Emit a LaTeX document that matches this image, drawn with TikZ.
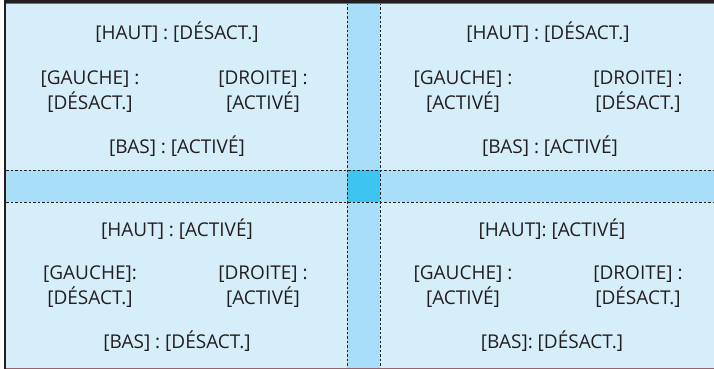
\documentclass[tikz,border=0pt]{standalone}
\usepackage{fontspec}
\setmainfont{Open Sans}
\definecolor{panel}{RGB}{214,238,250}
\definecolor{band}{RGB}{168,222,248}
\definecolor{centre}{RGB}{62,196,240}
\definecolor{frame}{RGB}{35,31,32}
\definecolor{mauve}{RGB}{150,100,110}
\definecolor{txt}{RGB}{35,31,32}
\begin{document}
\begin{tikzpicture}[x=1pt,y=-1pt,
  lbl/.style={font=\fontsize{19}{25}\selectfont, text=txt, align=center, inner sep=0pt},
  guide/.style={draw=frame, dashed, dash pattern=on 2.5pt off 2pt, line width=0.8pt}]
\useasboundingbox (0,0) rectangle (714,369);
\fill[white] (0,0) rectangle (714,369);
\fill[panel] (6,3) rectangle (714,368);
\fill[band] (347,3) rectangle (380,368);
\fill[band] (6,170) rectangle (714,202);
\fill[centre] (347,170) rectangle (380,202);
\draw[guide] (6,170) -- (714,170);
\draw[guide] (6,202) -- (714,202);
\draw[guide] (347,3) -- (347,369);
\draw[guide] (380,3) -- (380,369);
\draw[frame, line width=3pt] (4,1.5) -- (714,1.5);
\draw[mauve, line width=0.6pt] (6,3.2) -- (714,3.2);
\draw[frame, line width=2pt] (5,0) -- (5,369);
\draw[mauve, line width=1.2pt] (6,368.4) -- (714,368.4);
% top-left
\node[lbl] (tlh) at (177,32) {[HAUT] : [DÉSACT.]};
\node[lbl] (tlg) at (90,92) {[GAUCHE] :\\ {[DÉSACT.]}};
\node[lbl] (tld) at (263,92) {[DROITE] :\\ {[ACTIVÉ]}};
\node[lbl] (tlb) at (177,146) {[BAS] : [ACTIVÉ]};
% top-right
\node[lbl] (trh) at (548,32) {[HAUT] : [DÉSACT.]};
\node[lbl] (trg) at (463,92) {[GAUCHE] :\\ {[ACTIVÉ]}};
\node[lbl] (trd) at (638,92) {[DROITE] :\\ {[DÉSACT.]}};
\node[lbl] (trb) at (550,146) {[BAS] : [ACTIVÉ]};
% bottom-left
\node[lbl] (blh) at (177,229) {[HAUT] : [ACTIVÉ]};
\node[lbl] (blg) at (90,287) {[GAUCHE]:\\ {[DÉSACT.]}};
\node[lbl] (bld) at (263,287) {[DROITE] :\\ {[ACTIVÉ]}};
\node[lbl] (blb) at (177,341) {[BAS] : [DÉSACT.]};
% bottom-right
\node[lbl] (brh) at (552,229) {[HAUT]: [ACTIVÉ]};
\node[lbl] (brg) at (463,287) {[GAUCHE] :\\ {[ACTIVÉ]}};
\node[lbl] (brd) at (638,287) {[DROITE] :\\ {[DÉSACT.]}};
\node[lbl] (brb) at (552,341) {[BAS]: [DÉSACT.]};
\end{tikzpicture}
\end{document}
